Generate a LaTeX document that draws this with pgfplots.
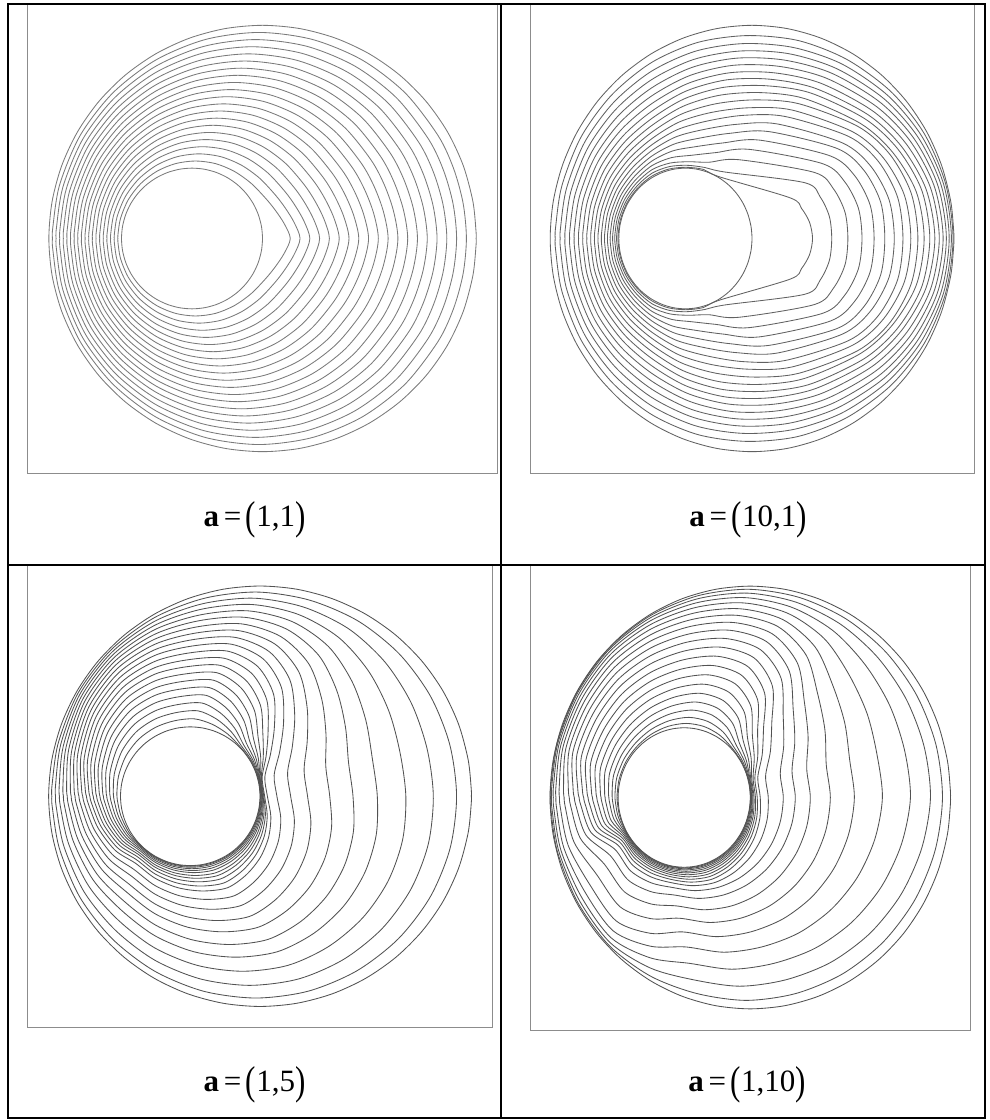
\documentclass[border=0pt]{standalone}
\usepackage{pgfplots}
\usepackage{pgfplotstable}
\usepackage{graphicx}
\usepackage{fontspec}
\setmainfont{Liberation Serif}
\newfontfamily\capfont{Liberation Serif}
\pgfplotsset{compat=1.18}

% Boundary circles: z = inner circle (s=0), o = outer circle (s=1)
\pgfplotstableread{
th z o
0 0 1
2 0 1
10 0 1
20 0 1
30 0 1
40 0 1
50 0 1
60 0 1
70 0 1
80 0 1
90 0 1
100 0 1
110 0 1
120 0 1
130 0 1
140 0 1
150 0 1
160 0 1
170 0 1
180 0 1
190 0 1
200 0 1
210 0 1
220 0 1
230 0 1
240 0 1
250 0 1
260 0 1
270 0 1
280 0 1
290 0 1
300 0 1
310 0 1
320 0 1
330 0 1
340 0 1
350 0 1
358 0 1
360 0 1
}\circles

% a=(1,1): fraction s of the way from inner to outer circle along each spoke
\pgfplotstableread{
th k1 k2 k3 k4 k5 k6 k7 k8 k9 k10 k11 k12 k13 k14 k15 k16 k17 k18 k19
-180 0.05 0.10 0.15 0.20 0.25 0.30 0.35 0.40 0.45 0.50 0.55 0.60 0.65 0.70 0.75 0.80 0.85 0.90 0.95
-177 0.05 0.10 0.15 0.20 0.25 0.30 0.35 0.40 0.45 0.50 0.55 0.60 0.65 0.70 0.75 0.80 0.85 0.90 0.95
-165 0.05 0.10 0.15 0.20 0.25 0.30 0.35 0.40 0.45 0.50 0.55 0.60 0.65 0.70 0.75 0.80 0.85 0.90 0.95
-150 0.05 0.10 0.15 0.20 0.25 0.30 0.35 0.40 0.45 0.50 0.55 0.60 0.65 0.70 0.75 0.80 0.85 0.90 0.95
-135 0.05 0.10 0.15 0.20 0.25 0.30 0.35 0.40 0.45 0.50 0.55 0.60 0.65 0.70 0.75 0.80 0.85 0.90 0.95
-120 0.05 0.10 0.15 0.20 0.25 0.30 0.35 0.40 0.45 0.50 0.55 0.60 0.65 0.70 0.75 0.80 0.85 0.90 0.95
-105 0.05 0.10 0.15 0.20 0.25 0.30 0.35 0.40 0.45 0.50 0.55 0.60 0.65 0.70 0.75 0.80 0.85 0.90 0.95
-90 0.05 0.10 0.15 0.20 0.25 0.30 0.35 0.40 0.45 0.50 0.55 0.60 0.65 0.70 0.75 0.80 0.85 0.90 0.95
-75 0.05 0.10 0.15 0.20 0.25 0.30 0.35 0.40 0.45 0.50 0.55 0.60 0.65 0.70 0.75 0.80 0.85 0.90 0.95
-60 0.05 0.10 0.15 0.20 0.25 0.30 0.35 0.40 0.45 0.50 0.55 0.60 0.65 0.70 0.75 0.80 0.85 0.90 0.95
-45 0.054 0.1038 0.1536 0.2034 0.2532 0.303 0.3527 0.4025 0.4523 0.5021 0.5519 0.6017 0.6515 0.7013 0.7511 0.8009 0.8506 0.9004 0.9502
-30 0.066 0.1152 0.1643 0.2135 0.2626 0.3118 0.361 0.4101 0.4593 0.5084 0.5576 0.6068 0.6559 0.7051 0.7542 0.8034 0.8526 0.9017 0.9509
-20 0.0836 0.1318 0.1801 0.2283 0.2765 0.3248 0.373 0.4213 0.4695 0.5177 0.566 0.6142 0.6624 0.7107 0.7589 0.8071 0.8554 0.9036 0.9518
-10 0.1076 0.1546 0.2016 0.2485 0.2955 0.3425 0.3895 0.4364 0.4834 0.5304 0.5774 0.6243 0.6713 0.7183 0.7653 0.8122 0.8592 0.9062 0.9532
0 0.130 0.1758 0.2216 0.2674 0.3132 0.359 0.4048 0.4506 0.4964 0.5422 0.588 0.6338 0.6796 0.7254 0.7712 0.817 0.8628 0.9086 0.9544
10 0.1076 0.1546 0.2016 0.2485 0.2955 0.3425 0.3895 0.4364 0.4834 0.5304 0.5774 0.6243 0.6713 0.7183 0.7653 0.8122 0.8592 0.9062 0.9532
20 0.0836 0.1318 0.1801 0.2283 0.2765 0.3248 0.373 0.4213 0.4695 0.5177 0.566 0.6142 0.6624 0.7107 0.7589 0.8071 0.8554 0.9036 0.9518
30 0.066 0.1152 0.1643 0.2135 0.2626 0.3118 0.361 0.4101 0.4593 0.5084 0.5576 0.6068 0.6559 0.7051 0.7542 0.8034 0.8526 0.9017 0.9509
45 0.054 0.1038 0.1536 0.2034 0.2532 0.303 0.3527 0.4025 0.4523 0.5021 0.5519 0.6017 0.6515 0.7013 0.7511 0.8009 0.8506 0.9004 0.9502
60 0.05 0.10 0.15 0.20 0.25 0.30 0.35 0.40 0.45 0.50 0.55 0.60 0.65 0.70 0.75 0.80 0.85 0.90 0.95
75 0.05 0.10 0.15 0.20 0.25 0.30 0.35 0.40 0.45 0.50 0.55 0.60 0.65 0.70 0.75 0.80 0.85 0.90 0.95
90 0.05 0.10 0.15 0.20 0.25 0.30 0.35 0.40 0.45 0.50 0.55 0.60 0.65 0.70 0.75 0.80 0.85 0.90 0.95
105 0.05 0.10 0.15 0.20 0.25 0.30 0.35 0.40 0.45 0.50 0.55 0.60 0.65 0.70 0.75 0.80 0.85 0.90 0.95
120 0.05 0.10 0.15 0.20 0.25 0.30 0.35 0.40 0.45 0.50 0.55 0.60 0.65 0.70 0.75 0.80 0.85 0.90 0.95
135 0.05 0.10 0.15 0.20 0.25 0.30 0.35 0.40 0.45 0.50 0.55 0.60 0.65 0.70 0.75 0.80 0.85 0.90 0.95
150 0.05 0.10 0.15 0.20 0.25 0.30 0.35 0.40 0.45 0.50 0.55 0.60 0.65 0.70 0.75 0.80 0.85 0.90 0.95
165 0.05 0.10 0.15 0.20 0.25 0.30 0.35 0.40 0.45 0.50 0.55 0.60 0.65 0.70 0.75 0.80 0.85 0.90 0.95
177 0.05 0.10 0.15 0.20 0.25 0.30 0.35 0.40 0.45 0.50 0.55 0.60 0.65 0.70 0.75 0.80 0.85 0.90 0.95
180 0.05 0.10 0.15 0.20 0.25 0.30 0.35 0.40 0.45 0.50 0.55 0.60 0.65 0.70 0.75 0.80 0.85 0.90 0.95
}\tabA

% a=(10,1): p=0 rows are spoke fractions, p=1 rows are radii seen from the origin
\pgfplotstableread{
th p k1 k2 k3 k4 k5 k6 k7 k8 k9 k10 k11 k12 k13 k14 k15 k16 k17 k18 k19
-180 0 0.0112 0.0316 0.0581 0.0894 0.1250 0.1643 0.2071 0.2530 0.3019 0.3536 0.4079 0.4648 0.5240 0.5857 0.6495 0.7155 0.7837 0.8538 0.9259
-177 0 0.0112 0.0316 0.0581 0.0894 0.1250 0.1643 0.2071 0.2530 0.3019 0.3536 0.4079 0.4648 0.5240 0.5857 0.6495 0.7155 0.7837 0.8538 0.9259
-165 0 0.0112 0.0316 0.0581 0.0894 0.1250 0.1643 0.2071 0.2530 0.3019 0.3536 0.4079 0.4648 0.5240 0.5857 0.6495 0.7155 0.7837 0.8538 0.9259
-150 0 0.0112 0.0316 0.0581 0.0894 0.1250 0.1643 0.2071 0.2530 0.3019 0.3536 0.4079 0.4648 0.5240 0.5857 0.6495 0.7155 0.7837 0.8538 0.9259
-135 0 0.0112 0.0316 0.0581 0.0894 0.1250 0.1643 0.2071 0.2530 0.3019 0.3536 0.4079 0.4648 0.5240 0.5857 0.6495 0.7155 0.7837 0.8538 0.9259
-120 0 0.0130 0.0355 0.0639 0.0969 0.1340 0.1745 0.2182 0.2649 0.3142 0.3660 0.4203 0.4768 0.5354 0.5962 0.6589 0.7236 0.7901 0.8583 0.9283
-105 0 0.010 0.028 0.054 0.093 0.142 0.192 0.244 0.297 0.352 0.408 0.465 0.521 0.577 0.632 0.689 0.747 0.805 0.865 0.928
-90 0 0.006 0.020 0.045 0.090 0.150 0.210 0.270 0.330 0.390 0.450 0.510 0.565 0.618 0.668 0.720 0.770 0.820 0.872 0.928
-75 0 0.008 0.022 0.060 0.130 0.200 0.270 0.335 0.400 0.455 0.512 0.565 0.615 0.662 0.708 0.755 0.801 0.847 0.892 0.942
-60 0 0.006 0.045 0.145 0.228 0.303 0.372 0.434 0.494 0.546 0.597 0.639 0.684 0.721 0.762 0.803 0.843 0.880 0.918 0.955
-45 1 0.269 0.370 0.438 0.496 0.548 0.597 0.634 0.677 0.707 0.743 0.762 0.793 0.818 0.846 0.874 0.901 0.926 0.950 0.974
-30 1 0.283 0.390 0.466 0.531 0.588 0.640 0.679 0.723 0.753 0.789 0.806 0.836 0.858 0.884 0.908 0.930 0.950 0.968 0.985
-15 1 0.295 0.397 0.477 0.546 0.606 0.660 0.703 0.747 0.782 0.817 0.843 0.871 0.893 0.916 0.936 0.954 0.970 0.983 0.993
0 1 0.300 0.395 0.475 0.545 0.605 0.658 0.705 0.748 0.787 0.822 0.853 0.881 0.906 0.928 0.947 0.963 0.977 0.988 0.996
15 1 0.295 0.397 0.477 0.546 0.606 0.660 0.703 0.747 0.782 0.817 0.843 0.871 0.893 0.916 0.936 0.954 0.970 0.983 0.993
30 1 0.283 0.390 0.466 0.531 0.588 0.640 0.679 0.723 0.753 0.789 0.806 0.836 0.858 0.884 0.908 0.930 0.950 0.968 0.985
45 1 0.269 0.370 0.438 0.496 0.548 0.597 0.634 0.677 0.707 0.743 0.762 0.793 0.818 0.846 0.874 0.901 0.926 0.950 0.974
60 0 0.006 0.045 0.145 0.228 0.303 0.372 0.434 0.494 0.546 0.597 0.639 0.684 0.721 0.762 0.803 0.843 0.880 0.918 0.955
75 0 0.008 0.022 0.060 0.130 0.200 0.270 0.335 0.400 0.455 0.512 0.565 0.615 0.662 0.708 0.755 0.801 0.847 0.892 0.942
90 0 0.006 0.020 0.045 0.090 0.150 0.210 0.270 0.330 0.390 0.450 0.510 0.565 0.618 0.668 0.720 0.770 0.820 0.872 0.928
105 0 0.010 0.028 0.054 0.093 0.142 0.192 0.244 0.297 0.352 0.408 0.465 0.521 0.577 0.632 0.689 0.747 0.805 0.865 0.928
120 0 0.0130 0.0355 0.0639 0.0969 0.1340 0.1745 0.2182 0.2649 0.3142 0.3660 0.4203 0.4768 0.5354 0.5962 0.6589 0.7236 0.7901 0.8583 0.9283
135 0 0.0112 0.0316 0.0581 0.0894 0.1250 0.1643 0.2071 0.2530 0.3019 0.3536 0.4079 0.4648 0.5240 0.5857 0.6495 0.7155 0.7837 0.8538 0.9259
150 0 0.0112 0.0316 0.0581 0.0894 0.1250 0.1643 0.2071 0.2530 0.3019 0.3536 0.4079 0.4648 0.5240 0.5857 0.6495 0.7155 0.7837 0.8538 0.9259
165 0 0.0112 0.0316 0.0581 0.0894 0.1250 0.1643 0.2071 0.2530 0.3019 0.3536 0.4079 0.4648 0.5240 0.5857 0.6495 0.7155 0.7837 0.8538 0.9259
177 0 0.0112 0.0316 0.0581 0.0894 0.1250 0.1643 0.2071 0.2530 0.3019 0.3536 0.4079 0.4648 0.5240 0.5857 0.6495 0.7155 0.7837 0.8538 0.9259
180 0 0.0112 0.0316 0.0581 0.0894 0.1250 0.1643 0.2071 0.2530 0.3019 0.3536 0.4079 0.4648 0.5240 0.5857 0.6495 0.7155 0.7837 0.8538 0.9259
}\tabB

% a=(1,5)
\pgfplotstableread{
th k1 k2 k3 k4 k5 k6 k7 k8 k9 k10 k11 k12 k13 k14 k15 k16 k17 k18 k19
-180 0.0482 0.0959 0.1436 0.191 0.2382 0.2855 0.3322 0.379 0.4262 0.4735 0.5252 0.578 0.6322 0.6855 0.7402 0.794 0.8492 0.9035 0.9552
-177 0.045 0.0897 0.1347 0.1796 0.2246 0.27 0.315 0.3604 0.4066 0.4532 0.5054 0.5592 0.615 0.67 0.727 0.7832 0.8414 0.8988 0.9534
-165 0.032 0.0648 0.0988 0.134 0.17 0.208 0.246 0.286 0.328 0.372 0.426 0.484 0.546 0.608 0.674 0.74 0.81 0.88 0.946
-150 0.0185 0.0384 0.0604 0.0845 0.11 0.139 0.168 0.2005 0.2365 0.276 0.333 0.397 0.468 0.539 0.617 0.695 0.78 0.865 0.943
-135 0.005 0.012 0.022 0.035 0.050 0.070 0.090 0.115 0.145 0.180 0.240 0.310 0.390 0.470 0.560 0.650 0.750 0.850 0.940
-120 0.005 0.012 0.022 0.035 0.050 0.070 0.090 0.115 0.145 0.180 0.240 0.310 0.390 0.470 0.560 0.650 0.750 0.850 0.940
-105 0.005 0.012 0.022 0.035 0.050 0.070 0.090 0.115 0.145 0.180 0.240 0.310 0.390 0.470 0.560 0.650 0.750 0.850 0.940
-90 0.005 0.012 0.022 0.035 0.050 0.070 0.090 0.115 0.145 0.180 0.240 0.310 0.390 0.470 0.560 0.650 0.750 0.850 0.940
-75 0.005 0.012 0.022 0.035 0.050 0.070 0.090 0.115 0.145 0.180 0.240 0.310 0.390 0.470 0.560 0.650 0.750 0.850 0.940
-60 0.0044 0.0104 0.0188 0.0296 0.042 0.0584 0.075 0.0956 0.1204 0.151 0.208 0.277 0.357 0.442 0.536 0.631 0.738 0.844 0.938
-45 0.0038 0.0088 0.0156 0.0242 0.034 0.0468 0.06 0.0762 0.0958 0.122 0.176 0.244 0.324 0.414 0.512 0.612 0.726 0.838 0.936
-30 0.0032 0.0072 0.0124 0.0188 0.026 0.0352 0.045 0.0568 0.0712 0.093 0.144 0.211 0.291 0.386 0.488 0.593 0.714 0.832 0.934
-15 0.0026 0.0056 0.0092 0.0134 0.018 0.0236 0.03 0.0374 0.0466 0.064 0.112 0.178 0.258 0.358 0.464 0.574 0.702 0.826 0.932
0 0.002 0.004 0.006 0.008 0.010 0.012 0.015 0.018 0.022 0.035 0.080 0.145 0.225 0.330 0.440 0.555 0.690 0.820 0.930
15 0.002 0.004 0.006 0.008 0.010 0.012 0.015 0.018 0.022 0.035 0.080 0.145 0.225 0.330 0.440 0.555 0.690 0.820 0.930
30 0.0026 0.007 0.0131 0.0208 0.0299 0.0402 0.0524 0.0656 0.0804 0.103 0.1517 0.2168 0.2941 0.3914 0.4926 0.5976 0.7182 0.8342 0.9335
45 0.0035 0.0115 0.0238 0.04 0.0597 0.0825 0.1085 0.137 0.168 0.205 0.2593 0.3245 0.3977 0.4835 0.5716 0.6615 0.7605 0.8555 0.9388
60 0.0179 0.0403 0.067 0.0976 0.1317 0.1689 0.209 0.2516 0.2964 0.3445 0.4003 0.461 0.5252 0.5945 0.6646 0.735 0.8085 0.8795 0.9448
75 0.0365 0.0757 0.1175 0.1616 0.2078 0.2559 0.3056 0.3568 0.4092 0.4625 0.5166 0.5712 0.6261 0.6811 0.7359 0.7904 0.8443 0.8973 0.9493
90 0.0571 0.1135 0.1691 0.224 0.2781 0.3315 0.3841 0.436 0.4871 0.5375 0.5871 0.636 0.6841 0.7315 0.7781 0.824 0.8691 0.9135 0.9571
105 0.0619 0.1225 0.1819 0.24 0.2969 0.3525 0.4069 0.46 0.5119 0.5625 0.6119 0.66 0.7069 0.7525 0.7969 0.84 0.8819 0.9225 0.9619
120 0.0714 0.1405 0.2074 0.272 0.3344 0.3945 0.4524 0.508 0.5614 0.6125 0.6614 0.708 0.7524 0.7945 0.8344 0.872 0.9074 0.9405 0.9714
135 0.0785 0.154 0.2265 0.296 0.3625 0.426 0.4865 0.544 0.5985 0.65 0.6985 0.744 0.7865 0.826 0.8625 0.896 0.9265 0.954 0.9785
150 0.0761 0.1495 0.2201 0.288 0.3531 0.4155 0.4751 0.532 0.5861 0.6375 0.6861 0.732 0.7751 0.8155 0.8531 0.888 0.9201 0.9495 0.9761
165 0.0643 0.127 0.1883 0.248 0.3063 0.363 0.4183 0.472 0.5243 0.575 0.6243 0.672 0.7183 0.763 0.8063 0.848 0.8883 0.927 0.9643
177 0.0514 0.1021 0.1526 0.2024 0.2518 0.301 0.3494 0.3976 0.4458 0.4938 0.545 0.5968 0.6494 0.701 0.7534 0.8048 0.857 0.9082 0.957
180 0.0482 0.0959 0.1436 0.191 0.2382 0.2855 0.3322 0.379 0.4262 0.4735 0.5252 0.578 0.6322 0.6855 0.7402 0.794 0.8492 0.9035 0.9552
}\tabC

% a=(1,10)
\pgfplotstableread{
th k1 k2 k3 k4 k5 k6 k7 k8 k9 k10 k11 k12 k13 k14 k15 k16 k17 k18 k19
-180 0.0146 0.0447 0.0858 0.1351 0.1905 0.2501 0.3127 0.3766 0.4409 0.5058 0.5727 0.6432 0.7167 0.7926 0.8606 0.9126 0.9511 0.9772 0.9934
-177 0.014 0.0425 0.0815 0.1283 0.1809 0.2377 0.2975 0.3588 0.4209 0.4841 0.5505 0.6223 0.6989 0.7798 0.8526 0.9078 0.9484 0.9757 0.9928
-165 0.0114 0.0338 0.0642 0.1011 0.1427 0.1881 0.2368 0.2877 0.3406 0.3972 0.4618 0.5388 0.6278 0.7284 0.8204 0.8884 0.9374 0.9698 0.9906
-150 0.005 0.012 0.021 0.033 0.047 0.064 0.085 0.11 0.14 0.18 0.24 0.33 0.45 0.60 0.74 0.84 0.91 0.955 0.985
-135 0.005 0.012 0.021 0.033 0.047 0.064 0.085 0.11 0.14 0.18 0.24 0.33 0.45 0.60 0.74 0.84 0.91 0.955 0.985
-120 0.005 0.0115 0.02 0.031 0.0435 0.0585 0.0765 0.0975 0.1225 0.155 0.2025 0.275 0.375 0.495 0.615 0.72 0.815 0.8975 0.9625
-105 0.005 0.011 0.019 0.029 0.040 0.053 0.068 0.085 0.105 0.130 0.165 0.220 0.300 0.390 0.490 0.600 0.720 0.840 0.940
-90 0.005 0.011 0.019 0.029 0.040 0.053 0.068 0.085 0.105 0.130 0.165 0.220 0.300 0.390 0.490 0.600 0.720 0.840 0.940
-75 0.005 0.011 0.019 0.029 0.040 0.053 0.068 0.085 0.105 0.130 0.165 0.220 0.300 0.390 0.490 0.600 0.720 0.840 0.940
-60 0.0044 0.0096 0.0166 0.0252 0.0348 0.0462 0.0596 0.075 0.094 0.122 0.165 0.221 0.30 0.392 0.496 0.612 0.736 0.852 0.944
-45 0.0038 0.0082 0.0142 0.0214 0.0296 0.0394 0.0512 0.065 0.083 0.114 0.165 0.222 0.30 0.394 0.502 0.624 0.752 0.864 0.948
-30 0.0032 0.0068 0.0118 0.0176 0.0244 0.0326 0.0428 0.055 0.072 0.106 0.165 0.223 0.30 0.396 0.508 0.636 0.768 0.876 0.952
-15 0.0026 0.0054 0.0094 0.0138 0.0192 0.0258 0.0344 0.045 0.061 0.098 0.165 0.224 0.30 0.398 0.514 0.648 0.784 0.888 0.956
0 0.002 0.004 0.007 0.010 0.014 0.019 0.026 0.035 0.050 0.090 0.165 0.225 0.300 0.400 0.520 0.660 0.800 0.900 0.960
15 0.002 0.004 0.007 0.010 0.014 0.019 0.026 0.035 0.050 0.090 0.165 0.225 0.300 0.400 0.520 0.660 0.800 0.900 0.960
30 0.0032 0.0089 0.0172 0.0273 0.0395 0.0538 0.0705 0.0897 0.1142 0.159 0.232 0.293 0.3659 0.4584 0.5665 0.69 0.8128 0.9029 0.9599
45 0.0053 0.0162 0.0325 0.0525 0.0762 0.1032 0.1332 0.1659 0.2029 0.2541 0.3249 0.3871 0.4569 0.5396 0.632 0.7339 0.834 0.91 0.9617
60 0.0172 0.0432 0.0761 0.1143 0.1571 0.2033 0.2524 0.3034 0.3565 0.4148 0.4797 0.5405 0.6028 0.6681 0.7351 0.8034 0.8687 0.9227 0.9652
75 0.0265 0.0638 0.1091 0.1605 0.2166 0.276 0.3377 0.4006 0.4638 0.5264 0.5878 0.6472 0.7041 0.758 0.8084 0.8551 0.8978 0.9362 0.9703
90 0.0306 0.0733 0.1244 0.1815 0.243 0.3073 0.3731 0.4392 0.5047 0.5686 0.6301 0.6885 0.7433 0.7941 0.8404 0.882 0.9188 0.9507 0.9777
105 0.0274 0.0689 0.1201 0.1784 0.2418 0.3085 0.377 0.4458 0.5138 0.58 0.6435 0.7033 0.7589 0.8098 0.8555 0.8957 0.9303 0.9592 0.9823
120 0.0225 0.0622 0.1137 0.1737 0.2401 0.3103 0.3827 0.4556 0.5274 0.5972 0.6635 0.7254 0.7822 0.8333 0.8781 0.9162 0.9475 0.9718 0.9893
135 0.0177 0.0555 0.1073 0.1691 0.2383 0.3121 0.3885 0.4654 0.5411 0.6143 0.6835 0.7475 0.8055 0.8568 0.9007 0.9367 0.9647 0.9845 0.9962
150 0.0177 0.0555 0.1073 0.1691 0.2383 0.3121 0.3885 0.4654 0.5411 0.6143 0.6835 0.7475 0.8055 0.8568 0.9007 0.9367 0.9647 0.9845 0.9962
165 0.0177 0.0555 0.1073 0.1691 0.2383 0.3121 0.3885 0.4654 0.5411 0.6143 0.6835 0.7475 0.8055 0.8568 0.9007 0.9367 0.9647 0.9845 0.9962
177 0.0152 0.0469 0.0901 0.1419 0.2001 0.2625 0.3279 0.3944 0.461 0.5275 0.5949 0.6641 0.7345 0.8054 0.8686 0.9174 0.9538 0.9787 0.994
180 0.0146 0.0447 0.0858 0.1351 0.1905 0.2501 0.3127 0.3766 0.4409 0.5058 0.5727 0.6432 0.7167 0.7926 0.8606 0.9126 0.9511 0.9772 0.9934
}\tabD

% Spoke position: inner circle centre (-0.33,0), radius 0.33; outer circle centre (0,0), radius 1
\newcommand{\spx}[1]{-0.33+0.33*\thisrow{#1}+(0.33+0.67*\thisrow{#1})*cos(\thisrow{th})}
\newcommand{\spy}[1]{(0.33+0.67*\thisrow{#1})*sin(\thisrow{th})}
% Mixed rows: p=1 means a radius from the origin
\newcommand{\mxx}[1]{\thisrow{p}*\thisrow{#1}*cos(\thisrow{th})+(1-\thisrow{p})*(\spx{#1})}
\newcommand{\mxy}[1]{(\thisrow{p}*\thisrow{#1}+(1-\thisrow{p})*(0.33+0.67*\thisrow{#1}))*sin(\thisrow{th})}

\pgfplotsset{
  panel/.style={scale only axis, anchor=south west,
    xmin=-1.1, xmax=1.1, ymin=-1.1, ymax=1.1,
    xtick=\empty, ytick=\empty,
    axis line style={draw=black!45, line width=0.9pt}},
  lev/.style={smooth, no markers, line width=0.85pt},
}

\newcommand{\lp}{\raisebox{-0.07em}{\scalebox{1}[1.3]{(}}}
\newcommand{\rp}{\raisebox{-0.07em}{\scalebox{1}[1.3]{)}}}
\newcommand{\lab}[1]{{\capfont\fontsize{31}{36}\selectfont\textbf{a}\hspace{0.15em}=\hspace{0.15em}\lp#1\rp}}

\begin{document}
\begin{tikzpicture}[x=1pt,y=1pt]
\path[use as bounding box] (0,0) rectangle (989,1120);

% a=(1,1)
\begin{axis}[panel, at={(27.5pt,647pt)}, width=470pt, height=469pt]
  \addplot[lev, black!52] table[x expr={\spx{z}}, y expr={\spy{z}}] {\circles};
  \addplot[lev, black!52] table[x expr={\spx{o}}, y expr={\spy{o}}] {\circles};
  \pgfplotsinvokeforeach{1,...,19}{
    \addplot[lev, black!52] table[x expr={\spx{k#1}}, y expr={\spy{k#1}}] {\tabA};
  }
\end{axis}

% a=(10,1)
\begin{axis}[panel, at={(530pt,647pt)}, width=444pt, height=469pt]
  \addplot[lev, black!62] table[x expr={\spx{z}}, y expr={\spy{z}}] {\circles};
  \addplot[lev, black!62] table[x expr={\spx{o}}, y expr={\spy{o}}] {\circles};
  \pgfplotsinvokeforeach{1,...,19}{
    \addplot[lev, black!62] table[x expr={\mxx{k#1}}, y expr={\mxy{k#1}}] {\tabB};
  }
\end{axis}

% a=(1,5)
\begin{axis}[panel, at={(27.5pt,92.5pt)}, width=465pt, height=462.5pt]
  \addplot[lev, black!68] table[x expr={\spx{z}}, y expr={\spy{z}}] {\circles};
  \addplot[lev, black!68] table[x expr={\spx{o}}, y expr={\spy{o}}] {\circles};
  \pgfplotsinvokeforeach{1,...,19}{
    \addplot[lev, black!68] table[x expr={\spx{k#1}}, y expr={\spy{k#1}}] {\tabC};
  }
\end{axis}

% a=(1,10)
\begin{axis}[panel, at={(530pt,90pt)}, width=440.5pt, height=465pt]
  \addplot[lev, black!68] table[x expr={\spx{z}}, y expr={\spy{z}}] {\circles};
  \addplot[lev, black!68] table[x expr={\spx{o}}, y expr={\spy{o}}] {\circles};
  \pgfplotsinvokeforeach{1,...,19}{
    \addplot[lev, black!68] table[x expr={\spx{k#1}}, y expr={\spy{k#1}}] {\tabD};
  }
\end{axis}

% table rules
\draw[line width=1.3pt] (8,2) rectangle (985,1116);
\draw[line width=1.3pt] (501,2) -- (501,1116);
\draw[line width=1.3pt] (8,555) -- (985,555);

% captions
\node[anchor=base] at (254.5,593) {\lab{1,1}};
\node[anchor=base] at (748,593) {\lab{10,1}};
\node[anchor=base] at (254.5,28) {\lab{1,5}};
\node[anchor=base] at (747,28) {\lab{1,10}};
\end{tikzpicture}
\end{document}
